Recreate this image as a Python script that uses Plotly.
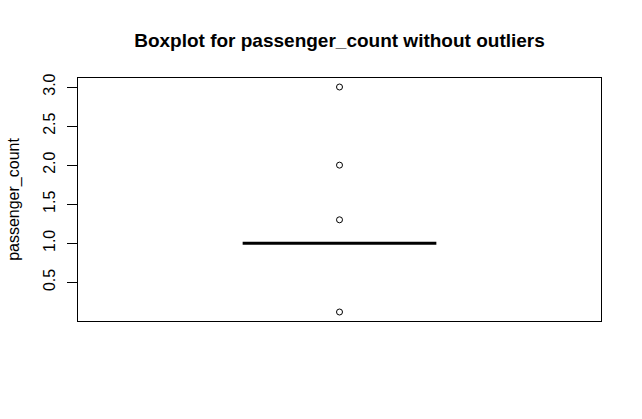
import plotly.graph_objects as go

# Data (degenerate box: quartiles all at 1.0)
group = ["passenger_count"]
q1 = [1.0]
median = [1.0]
q3 = [1.0]
lower_fence = [1.0]
upper_fence = [1.0]
outliers = [3.0, 2.0, 1.3, 0.12]

y_ticks = [0.5, 1.0, 1.5, 2.0, 2.5, 3.0]
y_tick_labels = ["0.5", "1.0", "1.5", "2.0", "2.5", "3.0"]

font_family = "Liberation Sans, Arial, sans-serif"

fig = go.Figure()
fig.add_trace(go.Box(
    x=[1],
    q1=q1, median=median, q3=q3,
    lowerfence=lower_fence, upperfence=upper_fence,
    width=0.4,
    line=dict(color="black", width=3),
    fillcolor="rgba(0,0,0,0)",
    boxpoints=False,
    whiskerwidth=0,
    showlegend=False,
    hoverinfo="skip",
))
fig.add_trace(go.Scatter(
    x=[1] * len(outliers),
    y=outliers,
    mode="markers",
    marker=dict(symbol="circle-open", size=6, color="black", line=dict(width=1, color="black")),
    showlegend=False,
))

fig.update_layout(
    width=642, height=419,
    margin=dict(l=78, r=41, t=78, b=98),
    paper_bgcolor="white",
    plot_bgcolor="white",
    font=dict(family=font_family, size=16, color="black"),
    title=dict(
        text="<b>Boxplot for passenger_count without outliers</b>",
        x=339.5 / 642, xanchor="center",
        y=1 - 40 / 419, yanchor="middle",
        font=dict(family=font_family, size=19, color="black"),
    ),
    xaxis=dict(
        range=[0.46, 1.54],
        showticklabels=False, ticks="", showgrid=False, zeroline=False,
        showline=True, mirror=True, linecolor="black", linewidth=1,
    ),
    yaxis=dict(
        range=[0.0048, 3.1152],
        tickvals=y_ticks, ticktext=y_tick_labels,
        tickangle=-90,
        ticks="outside", ticklen=10, tickcolor="black", tickwidth=1,
        ticklabelstandoff=6,
        showgrid=False, zeroline=False,
        showline=True, mirror=True, linecolor="black", linewidth=1,
        title=dict(text="passenger_count", standoff=16, font=dict(size=16)),
        tickfont=dict(size=16),
    ),
)

fig.write_html("out.html")
